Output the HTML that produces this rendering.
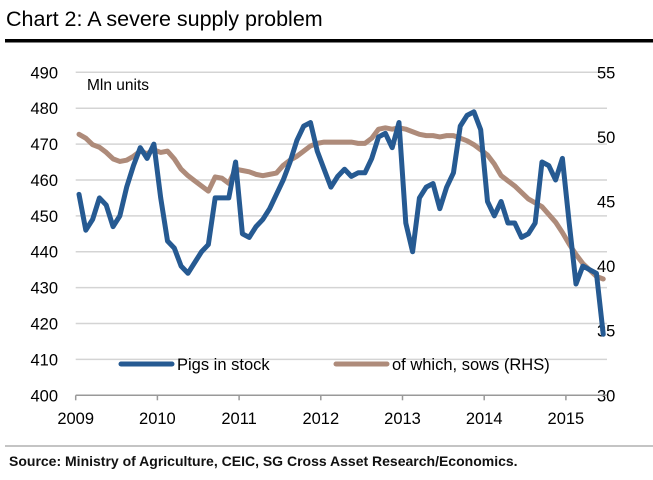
<!DOCTYPE html>
<html><head><meta charset="utf-8"><style>
body{margin:0;background:#fff;}
svg{display:block;font-family:"Liberation Sans",Arial,sans-serif;}
</style></head><body>
<svg width="653" height="480" viewBox="0 0 653 480">
<text x="6" y="26" font-size="21.5" fill="#000">Chart 2: A severe supply problem</text>
<rect x="5" y="39" width="648" height="3.5" fill="#000"/>
<g id="grid"></g>
<g id="axes"></g>
<text x="87" y="90" font-size="15.5" fill="#000">Mln units</text>
<g id="series"></g>
<g>
<line x1="121" y1="364" x2="172" y2="364" stroke="#265a92" stroke-width="5" stroke-linecap="round"/>
<text x="177" y="370" font-size="16.5">Pigs in stock</text>
<line x1="336" y1="364" x2="387" y2="364" stroke="#ae8b7a" stroke-width="5" stroke-linecap="round"/>
<text x="392" y="370" font-size="16.5">of which, sows (RHS)</text>
</g>
<line x1="5" y1="446" x2="653" y2="446" stroke="#888" stroke-width="1"/>
<text x="9" y="466" font-size="14" font-weight="bold" fill="#111">Source: Ministry of Agriculture, CEIC, SG Cross Asset Research/Economics.</text>
</svg>
<script>
const years=["2009","2010","2011","2012","2013","2014","2015"];
const leftTicks=[400,410,420,430,440,450,460,470,480,490];
const rightTicks=[30,35,40,45,50,55];
const pigs=[456,446,449,455,453,447,450,458,464,469,466,470,
455,443,441,436,434,437,440,442,455,455,455,465,
445,444,447,449,452,456,460,465,471,475,476,468,
463,458,461,463,461,462,462,466,472,473,469,476,
448,440,455,458,459,452,458,462,475,478,479,474,
454,450,454,448,448,444,445,448,465,464,460,466,
448,431,436,435,434,417];
const sows=[50.2,49.9,49.4,49.2,48.8,48.3,48.1,48.2,48.5,48.9,48.7,49.0,
48.8,48.9,48.3,47.5,47.0,46.6,46.2,45.8,46.9,46.8,46.4,47.5,
47.4,47.3,47.1,47.0,47.1,47.2,47.8,48.2,48.5,48.9,49.3,49.5,
49.6,49.6,49.6,49.6,49.6,49.5,49.5,49.9,50.6,50.7,50.6,50.7,
50.6,50.4,50.2,50.1,50.1,50.0,50.1,50.1,49.9,49.7,49.4,49.0,
48.6,47.9,47.0,46.6,46.2,45.7,45.2,44.9,44.6,44.0,43.4,42.6,
41.7,40.9,40.2,39.7,39.2,39.0];
const NS="http://www.w3.org/2000/svg";
const X0=75.7,YEARW=81.7,PX0=79,Y0=395.3,Y1=72.3,R=607;
const xM=i=>PX0+i*YEARW/12;
const xY=i=>X0+i*YEARW;
const yL=v=>Y0-(v-400)/90*(Y0-Y1);
const yR=v=>Y0-(v-30)/25*(Y0-Y1);
function mk(tag,attrs,parent){const e=document.createElementNS(NS,tag);for(const k in attrs)e.setAttribute(k,attrs[k]);parent.appendChild(e);return e;}
const grid=document.getElementById('grid'),axes=document.getElementById('axes'),series=document.getElementById('series');
leftTicks.forEach(v=>{
 if(v>400){const g=mk('line',{x1:X0,x2:R,y1:yL(v),y2:yL(v),stroke:'#d4d4d4','stroke-width':1.5},grid);
 
 }
 const t=mk('text',{x:58,y:yL(v)+6,'text-anchor':'end','font-size':16.5},axes);t.textContent=v;
 
 
});
rightTicks.forEach(v=>{
 const t=mk('text',{x:597,y:yR(v)+6,'font-size':16.5},axes);t.textContent=v;
 
 
});
const ax=mk('line',{x1:X0,x2:R,y1:Y0,y2:Y0,stroke:'#999','stroke-width':1.5},axes);


years.forEach((y,i)=>{
 const tk=mk('line',{x1:xY(i),x2:xY(i),y1:Y0,y2:Y0+5,stroke:'#999','stroke-width':1.5},axes);
 
 
 const t=mk('text',{x:xY(i),y:424,'text-anchor':'middle','font-size':16.5},axes);t.textContent=y;
 
 
});
const sp=mk('polyline',{points:sows.map((v,i)=>xM(i)+','+yR(v)).join(' '),fill:'none',stroke:'#ae8b7a','stroke-width':5,'stroke-linejoin':'round','stroke-linecap':'round'},series);


const pp=mk('polyline',{points:pigs.map((v,i)=>xM(i)+','+yL(v)).join(' '),fill:'none',stroke:'#265a92','stroke-width':5,'stroke-linejoin':'round','stroke-linecap':'round'},series);


</script>
</body></html>
